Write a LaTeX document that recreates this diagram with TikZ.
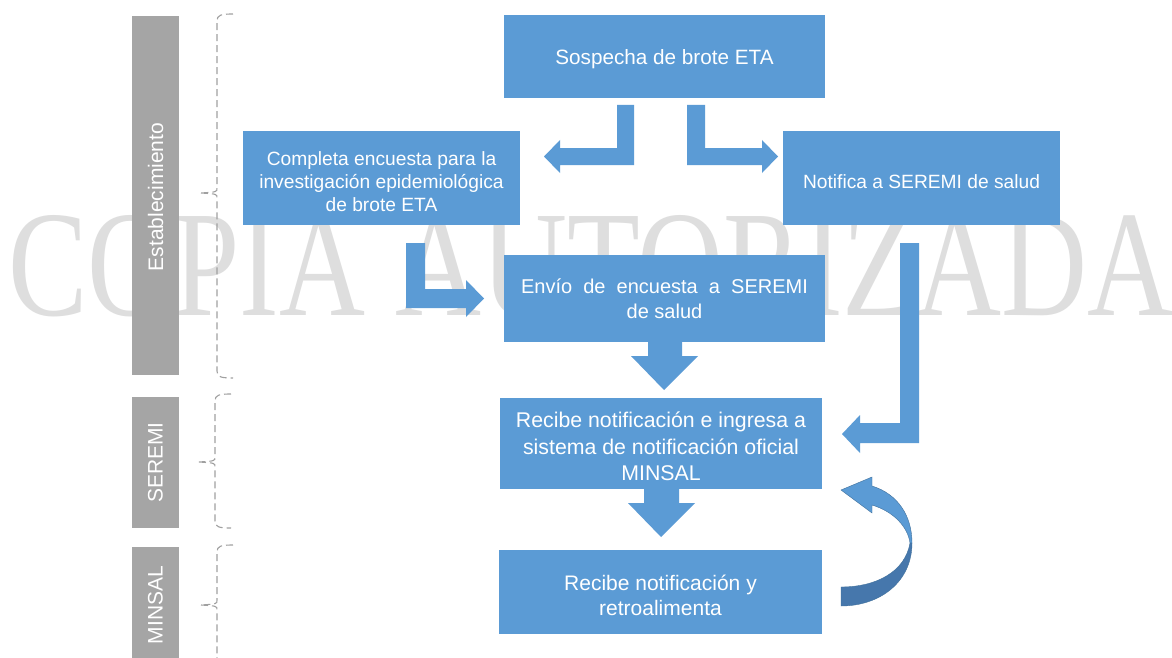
\documentclass[tikz,border=0pt]{standalone}
\usepackage{fontspec}
\setmainfont{Liberation Sans}
\newfontfamily\wmfont{Liberation Serif}
\usepackage{graphicx}
\definecolor{boxblue}{HTML}{5B9BD5}
\definecolor{barg}{HTML}{A5A5A5}
\definecolor{wmgray}{HTML}{DEDEDE}
\definecolor{darkblue}{HTML}{4677AC}
\definecolor{edgeblue}{HTML}{41719C}
\definecolor{bracegray}{HTML}{A0A0A0}
\newcommand\mybrace[4]{% x, top, mid, bottom
  \draw[bracestyle] (#1+16,#2) .. controls (#1+4,#2) and (#1,#2+1) .. (#1,#2+7)
     -- (#1,#3-5) .. controls (#1,#3-1) .. (#1-16,#3)
     (#1-16,#3) .. controls (#1,#3+1) .. (#1,#3+5)
     -- (#1,#4-7) .. controls (#1,#4-1) and (#1+4,#4) .. (#1+16,#4);}
\newcommand\upstrut[1]{\rule{0pt}{#1}}
\begin{document}
\begin{tikzpicture}[x=1pt,y=-1pt,
  box/.style={fill=boxblue, text=white, inner sep=0pt, align=center,
    font=\fontsize{20}{25}\selectfont},
  bar/.style={fill=barg, text=white, inner sep=0pt,
    font=\fontsize{21}{25}\selectfont},
  bartext/.style={text=white, rotate=90, font=\fontsize{21}{25}\selectfont},
  bracestyle/.style={draw=bracegray, dash pattern=on 7pt off 4pt, line width=1.1pt},
  blockarrow/.style={fill=boxblue}]
\fill[white] (0,0) rectangle (1172,658);
\useasboundingbox (0,0) rectangle (1172,658);
% watermark
\node[anchor=base west, inner sep=0pt, text=wmgray] (wm) at (8,315)
  {\resizebox{1164pt}{100pt}{\wmfont COPIA AUTORIZADA}};
% side bars
\node[bar, minimum width=47pt, minimum height=359pt] (estab) at (155.5,195.5) {};
\node[bartext] (estabt) at (155.5,197) {Establecimiento};
\node[bar, minimum width=47pt, minimum height=131pt] (seremi) at (155.5,462.5) {};
\node[bartext] (seremit) at (seremi.center) {SEREMI};
\node[bar, minimum width=47pt, minimum height=111pt] (minsal) at (155.5,602.5) {};
\node[bartext] (minsalt) at (155.5,605) {MINSAL};
% braces
\mybrace{217}{14}{193}{378}
\mybrace{215}{394}{462}{528}
\draw[bracestyle] (233,545) .. controls (221,545) and (217,546) .. (217,552)
     -- (217,600) .. controls (217,604) .. (201,605)
     (201,605) .. controls (217,606) .. (217,610) -- (217,660);
% boxes
\node[box, minimum width=321pt, minimum height=83pt, font=\fontsize{20.7}{25}\selectfont] (sosp) at (664.5,56.5)
  {\upstrut{21pt}Sospecha de brote ETA};
\node[box, minimum width=277pt, minimum height=94pt, font=\fontsize{19.2}{23}\selectfont] (comp) at (381.5,178)
  {\upstrut{20.5pt}Completa encuesta para la\\investigación epidemiológica\\de brote ETA};
\node[box, minimum width=277pt, minimum height=94pt, font=\fontsize{19.2}{23}\selectfont] (noti) at (921.5,178)
  {\upstrut{20.5pt}Notifica a SEREMI de salud};
\node[box, minimum width=321pt, minimum height=87pt] (envio) at (664.5,298.5)
  {Envío\ \ de\ \ encuesta\ \ a\ \ SEREMI\\de salud};
\node[box, minimum width=322pt, minimum height=91pt, font=\fontsize{21.3}{26.5}\selectfont] (rec1) at (661,443.5)
  {\upstrut{22pt}Recibe notificación e ingresa a\\sistema de notificación oficial\\MINSAL};
\node[box, minimum width=323pt, minimum height=84pt, font=\fontsize{21}{25}\selectfont] (rec2) at (660.5,592)
  {\upstrut{21.5pt}Recibe notificación y\\retroalimenta};
% bent arrows
\fill[blockarrow] (617,105) -- (634,105) -- (634,165) -- (560,165) -- (560,173)
  -- (544,156.5) -- (560,140) -- (560,148) -- (617,148) -- cycle;
\fill[blockarrow] (687,105) -- (705,105) -- (705,148) -- (762,148) -- (762,140)
  -- (778,156.5) -- (762,173) -- (762,165) -- (687,165) -- cycle;
\fill[blockarrow] (406,243) -- (425,243) -- (425,289) -- (466,289) -- (466,280)
  -- (484,298.5) -- (466,317) -- (466,308) -- (406,308) -- cycle;
\fill[blockarrow] (900,243) -- (919,243) -- (919,443) -- (860,443) -- (860,453)
  -- (842,434) -- (860,415) -- (860,423) -- (900,423) -- cycle;
% down arrows
\fill[blockarrow] (648,342) -- (682,342) -- (682,356) -- (698,356) -- (664,390)
  -- (631,356) -- (648,356) -- cycle;
\fill[blockarrow] (644,489) -- (679,489) -- (679,503) -- (695,503) -- (661,537)
  -- (628,503) -- (644,503) -- cycle;
% curved arrow
\filldraw[fill=boxblue, draw=edgeblue, line width=0.4pt]
  (841,490) -- (872,477) -- (872,486) .. controls (898,494) and (912,516) .. (912,543)
  -- (910,543) .. controls (908,528) and (895,512) .. (872,505) -- (872,513) -- cycle;
\filldraw[fill=darkblue, draw=edgeblue, line width=0.4pt]
  (912,543) .. controls (912,582) and (880,606) .. (841,606) -- (841,587)
  .. controls (876,587) and (905,572) .. (910,543) -- cycle;
\end{tikzpicture}
\end{document}
